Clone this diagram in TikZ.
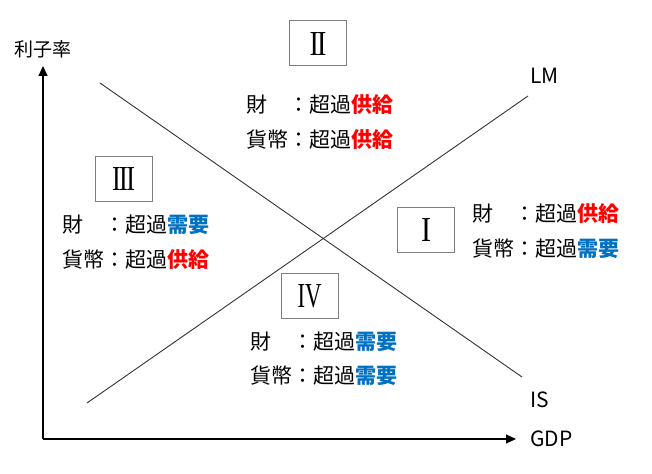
\documentclass[tikz,border=0pt]{standalone}
\usepackage{fontspec}
\setmainfont{Noto Sans CJK JP}
\newfontfamily\numfont{Liberation Serif}
\usetikzlibrary{arrows.meta}
\definecolor{supred}{HTML}{FF0000}
\definecolor{demblue}{HTML}{0070C0}
\definecolor{boxgray}{HTML}{7F7F7F}
\newcommand\supplyword{\textcolor{supred}{\bfseries 供給}}
\newcommand\demandword{\textcolor{demblue}{\bfseries 需要}}
\tikzset{
  axisline/.style={draw=black, line width=1.1pt, -{Triangle[length=10pt,width=9pt]}},
  curve/.style={draw=black!80, line width=0.9pt},
  numbox/.style={draw=boxgray, line width=1pt, minimum width=57pt, minimum height=45pt, inner sep=0pt},
  txt/.style={anchor=west, inner sep=0pt, font=\fontsize{21}{24}\selectfont},
  axlbl/.style={anchor=west, inner sep=0pt, font=\fontsize{19}{22}\selectfont},
}
\begin{document}
\begin{tikzpicture}[x=1pt,y=-1pt]
\useasboundingbox (0,0) rectangle (652,473);
% axes
\coordinate (O) at (43,439);
\coordinate (ytip) at (43,66);
\coordinate (xtip) at (516,439);
\draw[axisline] (O) -- (ytip);
\draw[axisline] (O) -- (xtip);
\node[axlbl] (ylabel) at (14,49) {利子率};
\node[txt] (xlabel) at (530,439) {GDP};
% curves
\coordinate (lmA) at (87,403);
\coordinate (lmB) at (528,96);
\coordinate (isA) at (100,83);
\coordinate (isB) at (522,377);
\draw[curve] (lmA) -- (lmB);
\draw[curve] (isA) -- (isB);
\node[txt] (lmlabel) at (530,76) {LM};
\node[txt] (islabel) at (530,400) {IS};
% boxes
\node[numbox] (b2) at (318,43.5) {\resizebox{17pt}{23pt}{\numfont I\kern-0.6pt I}};
\node[numbox] (b3) at (123.5,179) {\resizebox{23pt}{23pt}{\numfont I\kern-0.6pt I\kern-0.6pt I}};
\node[numbox] (b1) at (426,230) {\resizebox{10pt}{23pt}{\numfont I}};
\node[numbox] (b4) at (309.5,296) {\resizebox{24pt}{23pt}{\numfont IV}};
% texts
\node[txt] (t2a) at (246,105) {財　：超過\supplyword};
\node[txt] (t2b) at (246,140) {貨幣：超過\supplyword};
\node[txt] (t3a) at (62,225) {財　：超過\demandword};
\node[txt] (t3b) at (62,260) {貨幣：超過\supplyword};
\node[txt] (t1a) at (472,214) {財　：超過\supplyword};
\node[txt] (t1b) at (472,249) {貨幣：超過\demandword};
\node[txt] (t4a) at (250,342) {財　：超過\demandword};
\node[txt] (t4b) at (250,376) {貨幣：超過\demandword};
\end{tikzpicture}
\end{document}
